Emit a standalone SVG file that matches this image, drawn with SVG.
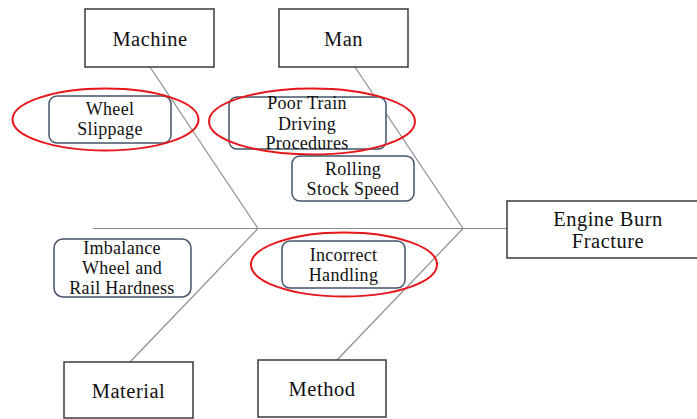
<svg xmlns="http://www.w3.org/2000/svg" width="697" height="419" viewBox="0 0 697 419">
<style>
.cat{fill:#fff;stroke:#3a3a3a;stroke-width:1.5}
.cause{fill:#fff;stroke:#44546a;stroke-width:1.5}
.ring{fill:none;stroke:#e8151b;stroke-width:2}
.bone{stroke:#8c8c8c;stroke-width:1.2;fill:none}
text{font-family:'Liberation Serif','Times New Roman','DejaVu Serif',serif;fill:#111;text-anchor:middle}
.t20{font-size:20.5px;letter-spacing:0.5px}
.t17{font-size:18px;letter-spacing:0.3px}
</style>
<rect width="697" height="419" fill="#fff"/>
<g id="connectors">
<line class="bone" x1="93" y1="228.5" x2="507" y2="228.5"/>
<line class="bone" x1="150" y1="67" x2="258" y2="228.5"/>
<line class="bone" x1="130" y1="362" x2="258" y2="228.5"/>
<line class="bone" x1="355" y1="67" x2="463" y2="228.5"/>
<line class="bone" x1="337" y1="360" x2="463" y2="228.5"/>
</g>
<g id="machine"><rect class="cat" x="85" y="9" width="129" height="58"/><text class="t20" x="150" y="46">Machine</text></g>
<g id="man"><rect class="cat" x="279" y="9" width="129" height="58"/><text class="t20" x="343.5" y="46">Man</text></g>
<g id="material"><rect class="cat" x="64" y="362" width="129" height="56"/><text class="t20" x="128.5" y="398">Material</text></g>
<g id="method"><rect class="cat" x="258" y="360" width="128" height="57"/><text class="t20" x="322" y="396">Method</text></g>
<g id="effect"><rect class="cat" x="507" y="201" width="200" height="57"/><text class="t20" x="608" y="226">Engine Burn</text><text class="t20" x="608" y="248">Fracture</text></g>
<g id="wheel-slippage"><rect class="cause" x="49" y="96" width="122" height="47" rx="8"/><text class="t17" x="110" y="115">Wheel</text><text class="t17" x="110" y="135">Slippage</text><ellipse class="ring" cx="105.5" cy="119.5" rx="93" ry="31"/></g>
<g id="poor-train"><rect class="cause" x="229" y="97" width="157" height="52" rx="8"/><text class="t17" x="307" y="109">Poor Train</text><text class="t17" x="307" y="130">Driving</text><text class="t17" x="307" y="149">Procedures</text><ellipse class="ring" cx="312" cy="121.5" rx="103" ry="33"/></g>
<g id="rolling-stock"><rect class="cause" x="292" y="156" width="122" height="45" rx="8"/><text class="t17" x="353" y="175">Rolling</text><text class="t17" x="353" y="195">Stock Speed</text></g>
<g id="imbalance"><rect class="cause" x="54" y="239" width="137" height="58" rx="9"/><text class="t17" x="122" y="254">Imbalance</text><text class="t17" x="122" y="274">Wheel and</text><text class="t17" x="122" y="294">Rail Hardness</text></g>
<g id="incorrect-handling"><rect class="cause" x="282" y="241" width="123" height="47" rx="8"/><text class="t17" x="343.5" y="261">Incorrect</text><text class="t17" x="343.5" y="281">Handling</text><ellipse class="ring" cx="344" cy="264.5" rx="93" ry="32"/></g>
</svg>
